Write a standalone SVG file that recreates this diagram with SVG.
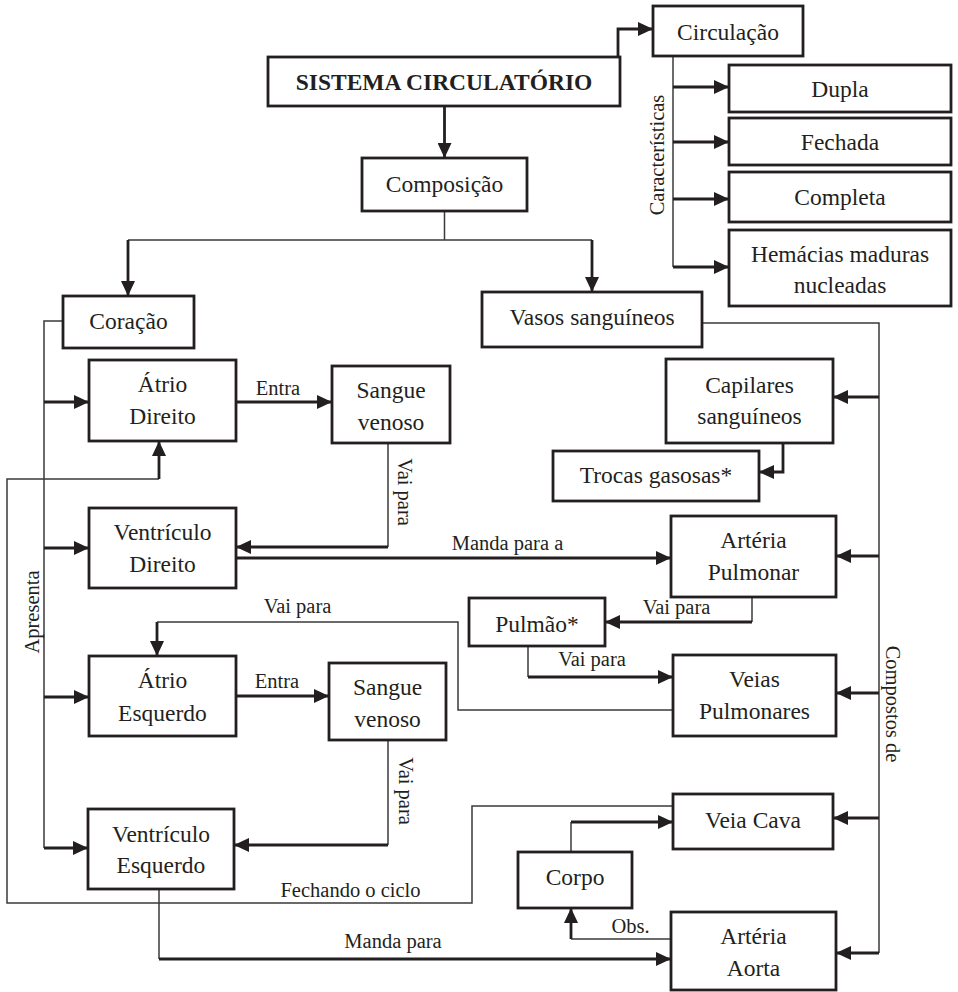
<svg xmlns="http://www.w3.org/2000/svg" width="958" height="992" viewBox="0 0 958 992">
<style>
rect{fill:#fff;stroke:#231f20;stroke-width:2.8}
text{font-family:"Liberation Serif","Times New Roman",serif;fill:#231f20}
.n{font-size:23.5px;text-anchor:middle}
.b{font-weight:bold}
.l{font-size:20.5px;text-anchor:middle}
.thin{fill:none;stroke:#3a3a3a;stroke-width:1.5}
.thick{fill:none;stroke:#231f20;stroke-width:2.8}
.arr{marker-end:url(#ah)}
</style>
<defs>
<marker id="ah" markerUnits="userSpaceOnUse" markerWidth="15" markerHeight="14" refX="15" refY="7" orient="auto">
<path d="M0,0 L15,7 L0,14 z" fill="#231f20"/>
</marker>
</defs>
<g id="connectors">
<path class="thick arr" d="M618,57 V29 H653"/>
<path class="thick arr" d="M444.5,106 V158"/>
<path class="thin" d="M673,56 V267"/>
<path class="thick arr" d="M673,87 H729"/>
<path class="thick arr" d="M673,142 H729"/>
<path class="thick arr" d="M673,199 H729"/>
<path class="thick arr" d="M673,267 H729"/>
<path class="thin" d="M444.5,211 V240 M128,240 H592"/>
<path class="thick arr" d="M128,240 V296"/>
<path class="thick arr" d="M592,240 V292"/>
<path class="thin" d="M63,321 H44 V848"/>
<path class="thick arr" d="M44,402 H89"/>
<path class="thick arr" d="M44,548 H89"/>
<path class="thick arr" d="M44,697 H89"/>
<path class="thick arr" d="M44,848 H88"/>
<path class="thick arr" d="M236,402 H332"/>
<path class="thin" d="M388,443 V547"/>
<path class="thick arr" d="M388,547 H236"/>
<path class="thick arr" d="M236,558 H671"/>
<path class="thin" d="M673,806 H472 V903 H7 V479 H159"/>
<path class="thick arr" d="M159,479 V441"/>
<path class="thin" d="M702,323 H879 V953"/>
<path class="thick arr" d="M879,397 H833"/>
<path class="thick arr" d="M879,556 H836"/>
<path class="thick arr" d="M879,693 H836"/>
<path class="thick arr" d="M879,818 H833"/>
<path class="thick arr" d="M879,953 H836"/>
<path class="thick arr" d="M783,443 V472 H759"/>
<path class="thin" d="M752,597 V622"/>
<path class="thick arr" d="M752,622 H605"/>
<path class="thin" d="M528,646 V677"/>
<path class="thick arr" d="M528,677 H673"/>
<path class="thin" d="M673,710 H458 V622 H157"/>
<path class="thick arr" d="M157,622 V656"/>
<path class="thick arr" d="M236,696 H329"/>
<path class="thin" d="M388,740 V845"/>
<path class="thick arr" d="M388,845 H234"/>
<path class="thin" d="M159,889 V959"/>
<path class="thick arr" d="M159,959 H671"/>
<path class="thin" d="M571,852 V822"/>
<path class="thick arr" d="M571,822 H673"/>
<path class="thin" d="M671,939 H571"/>
<path class="thick arr" d="M571,939 V908"/>
<text class="l" transform="translate(664,155) rotate(-90)">Características</text>
<text class="l" transform="translate(39,612) rotate(-90)">Apresenta</text>
<text class="l" transform="translate(398,492) rotate(90)">Vai para</text>
<text class="l" transform="translate(399,791) rotate(90)">Vai para</text>
<text class="l" transform="translate(886,704) rotate(90)">Compostos de</text>
<text class="l" x="278" y="395">Entra</text>
<text class="l" x="277" y="688">Entra</text>
<text class="l" x="507.5" y="550">Manda para a</text>
<text class="l" x="676.5" y="614">Vai para</text>
<text class="l" x="592" y="666">Vai para</text>
<text class="l" x="297.5" y="613">Vai para</text>
<text class="l" x="350.5" y="897">Fechando o ciclo</text>
<text class="l" x="393" y="948">Manda para</text>
<text class="l" x="630.5" y="933">Obs.</text>
</g>
<g id="sistema"><rect x="268" y="57" width="352" height="49"/><text class="n b" x="444" y="90">SISTEMA CIRCULATÓRIO</text></g>
<g id="circulacao"><rect x="653" y="6" width="150" height="50"/><text class="n" x="728" y="40">Circulação</text></g>
<g id="dupla"><rect x="729" y="65" width="222" height="47"/><text class="n" x="840" y="97">Dupla</text></g>
<g id="fechada"><rect x="729" y="118" width="222" height="47"/><text class="n" x="840" y="150">Fechada</text></g>
<g id="completa"><rect x="729" y="172" width="222" height="50"/><text class="n" x="840" y="205">Completa</text></g>
<g id="hemacias"><rect x="729" y="230" width="222" height="76"/><text class="n" x="840" y="262">Hemácias maduras</text><text class="n" x="840" y="293">nucleadas</text></g>
<g id="composicao"><rect x="362" y="158" width="165" height="53"/><text class="n" x="444.5" y="192">Composição</text></g>
<g id="coracao"><rect x="63" y="296" width="131" height="52"/><text class="n" x="128.5" y="329">Coração</text></g>
<g id="vasos"><rect x="482" y="292" width="220" height="55"/><text class="n" x="592" y="325">Vasos sanguíneos</text></g>
<g id="atrio-direito"><rect x="89" y="360" width="147" height="81"/><text class="n" x="162.5" y="392">Átrio</text><text class="n" x="162.5" y="424">Direito</text></g>
<g id="sangue-venoso-1"><rect x="332" y="366" width="118" height="77"/><text class="n" x="391" y="398">Sangue</text><text class="n" x="391" y="430">venoso</text></g>
<g id="ventriculo-direito"><rect x="89" y="508" width="147" height="80"/><text class="n" x="162.5" y="540">Ventrículo</text><text class="n" x="162.5" y="572">Direito</text></g>
<g id="capilares"><rect x="666" y="359" width="167" height="84"/><text class="n" x="749.5" y="393">Capilares</text><text class="n" x="749.5" y="424">sanguíneos</text></g>
<g id="trocas"><rect x="553" y="451" width="206" height="50"/><text class="n" x="656" y="483">Trocas gasosas*</text></g>
<g id="arteria-pulmonar"><rect x="671" y="516" width="165" height="81"/><text class="n" x="753.5" y="548">Artéria</text><text class="n" x="753.5" y="580">Pulmonar</text></g>
<g id="pulmao"><rect x="469" y="598" width="136" height="48"/><text class="n" x="537" y="632">Pulmão*</text></g>
<g id="veias-pulmonares"><rect x="673" y="655" width="163" height="81"/><text class="n" x="754.5" y="687">Veias</text><text class="n" x="754.5" y="719">Pulmonares</text></g>
<g id="atrio-esquerdo"><rect x="89" y="656" width="147" height="80"/><text class="n" x="162.5" y="688">Átrio</text><text class="n" x="162.5" y="721">Esquerdo</text></g>
<g id="sangue-venoso-2"><rect x="329" y="663" width="117" height="77"/><text class="n" x="387.5" y="695">Sangue</text><text class="n" x="387.5" y="727">venoso</text></g>
<g id="ventriculo-esquerdo"><rect x="88" y="809" width="146" height="80"/><text class="n" x="161" y="842">Ventrículo</text><text class="n" x="161" y="873">Esquerdo</text></g>
<g id="veia-cava"><rect x="673" y="794" width="160" height="55"/><text class="n" x="753" y="828">Veia Cava</text></g>
<g id="corpo"><rect x="518" y="852" width="114" height="56"/><text class="n" x="575" y="885">Corpo</text></g>
<g id="arteria-aorta"><rect x="671" y="912" width="165" height="78"/><text class="n" x="753.5" y="944">Artéria</text><text class="n" x="753.5" y="976">Aorta</text></g>
</svg>
